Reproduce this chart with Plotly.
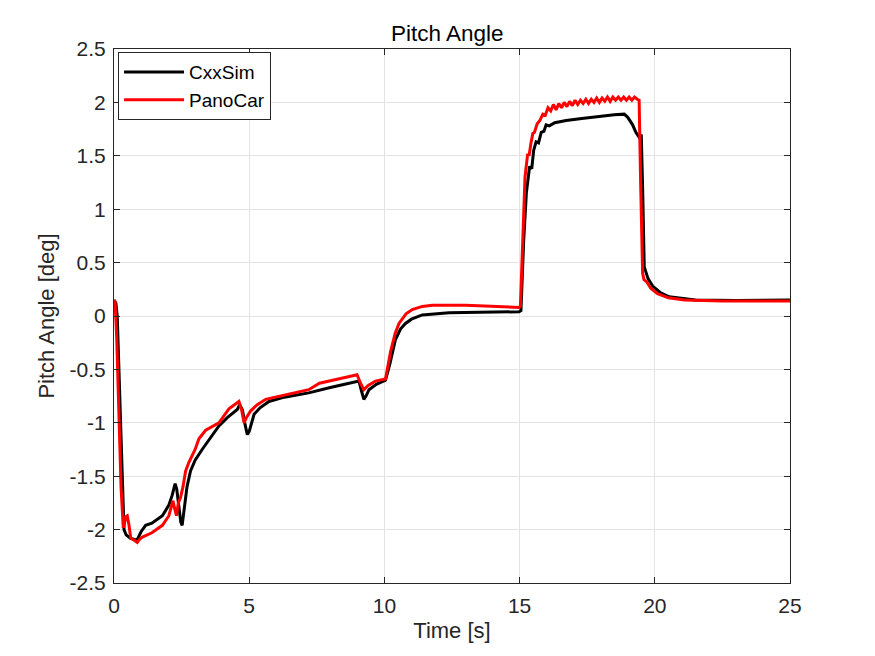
import plotly.graph_objects as go

# CxxSim (black) samples
t_cxx = [0, 0.07, 0.12, 0.2, 0.28, 0.37, 0.45, 0.6, 0.85, 1.0, 1.17, 1.4, 1.79, 2.03,
         2.15, 2.26, 2.32, 2.4, 2.47, 2.52, 2.6, 2.7, 2.83, 3.0, 3.26, 3.5, 3.88, 4.2,
         4.56, 4.65, 4.75, 4.85, 4.93, 5.0, 5.18, 5.4, 5.73, 6.3, 7.2, 8.0, 9.06, 9.15,
         9.24, 9.32, 9.43, 9.7, 10.04, 10.2, 10.41, 10.6, 10.78, 11.0, 11.4, 12.39,
         13.5, 14.98, 15.05, 15.15, 15.25, 15.37, 15.45, 15.52, 15.61, 15.7, 15.8,
         15.9, 15.98, 16.1, 16.3, 16.72, 17.3, 17.95, 18.5, 18.87, 19.0, 19.18, 19.3,
         19.43, 19.5, 19.55, 19.61, 19.75, 19.92, 20.2, 20.53, 21.5, 23.0, 25.0]
y_cxx = [0.15, 0.12, 0.0, -0.7, -1.4, -2.0, -2.05, -2.08, -2.1, -2.02, -1.96, -1.94,
         -1.87, -1.77, -1.68, -1.57, -1.62, -1.78, -1.93, -1.96, -1.8, -1.6, -1.45,
         -1.35, -1.25, -1.16, -1.03, -0.95, -0.875, -0.83, -0.88, -1.02, -1.11, -1.08,
         -0.92, -0.86, -0.8, -0.76, -0.72, -0.67, -0.61, -0.7, -0.78, -0.75, -0.69,
         -0.64, -0.6, -0.45, -0.22, -0.12, -0.07, -0.03, 0.01, 0.03, 0.035, 0.04, 0.05,
         0.7, 1.15, 1.4, 1.38, 1.55, 1.63, 1.62, 1.72, 1.73, 1.79, 1.78, 1.81, 1.83,
         1.85, 1.87, 1.885, 1.89, 1.86, 1.79, 1.72, 1.67, 1.7, 1.2, 0.46, 0.35, 0.28,
         0.22, 0.18, 0.15, 0.145, 0.15]

# PanoCar (red) samples
t_pano = [0, 0.04, 0.1, 0.18, 0.26, 0.34, 0.37, 0.43, 0.49, 0.55, 0.62, 0.75, 0.86,
          0.95, 1.05, 1.4, 1.79, 2.03, 2.12, 2.18, 2.24, 2.31, 2.38, 2.46, 2.55, 2.65,
          2.77, 3.0, 3.14, 3.39, 3.88, 4.25, 4.62, 4.72, 4.81, 4.9, 5.05, 5.3, 5.61,
          6.3, 7.2, 7.6, 8.3, 8.99, 9.1, 9.24, 9.4, 9.67, 10.04, 10.1, 10.23, 10.4,
          10.54, 10.8, 11.03, 11.4, 11.77, 13.0, 14.98, 15.03, 15.12, 15.2, 15.3, 15.35,
          15.42, 15.49, 15.55, 15.65, 15.75, 15.86, 15.95, 16.05, 16.15, 16.25, 16.35,
          16.45, 16.55, 16.65, 16.75, 16.85, 16.95, 17.05, 17.15, 17.25, 17.35, 17.45,
          17.55, 17.65, 17.75, 17.85, 17.95, 18.05, 18.15, 18.25, 18.35, 18.45, 18.55,
          18.65, 18.75, 18.85, 18.95, 19.05, 19.15, 19.25, 19.35, 19.42, 19.48, 19.55,
          19.6, 19.7, 19.85, 20.1, 20.5, 21.1, 22.5, 25.0]
y_pano = [0.15, 0.13, -0.2, -0.9, -1.6, -1.97, -1.97, -1.88, -1.87, -1.95, -2.08,
          -2.1, -2.12, -2.09, -2.07, -2.03, -1.96, -1.87, -1.79, -1.73, -1.8, -1.87,
          -1.75, -1.7, -1.6, -1.45, -1.37, -1.25, -1.15, -1.07, -1.0, -0.87, -0.8,
          -0.88, -1.0, -0.95, -0.89, -0.83, -0.78, -0.74, -0.69, -0.63, -0.59, -0.55,
          -0.62, -0.69, -0.65, -0.61, -0.59, -0.5, -0.33, -0.16, -0.07, 0.02, 0.06,
          0.09, 0.1, 0.1, 0.08, 0.09, 0.8, 1.3, 1.52, 1.5, 1.62, 1.71, 1.72, 1.8, 1.83,
          1.89, 1.88, 1.95, 1.92, 1.98, 1.93, 1.99, 1.95, 2.0, 1.96, 2.01, 1.97, 2.02,
          1.98, 2.02, 1.99, 2.03, 1.99, 2.03, 2.0, 2.04, 2.0, 2.04, 2.01, 2.05, 2.01,
          2.05, 2.02, 2.05, 2.02, 2.05, 2.02, 2.05, 2.02, 2.05, 2.03, 2.02, 1.2, 0.4,
          0.34, 0.32, 0.26, 0.21, 0.17, 0.15, 0.14, 0.14]

x_ticks = [0, 5, 10, 15, 20, 25]
y_ticks = [-2.5, -2, -1.5, -1, -0.5, 0, 0.5, 1, 1.5, 2, 2.5]
y_labels = ["-2.5", "-2", "-1.5", "-1", "-0.5", "0", "0.5", "1", "1.5", "2", "2.5"]

fig = go.Figure()
fig.add_trace(go.Scatter(x=t_cxx, y=y_cxx, name="CxxSim", mode="lines",
                         line=dict(color="black", width=3)))
fig.add_trace(go.Scatter(x=t_pano, y=y_pano, name="PanoCar", mode="lines",
                         line=dict(color="#ff0000", width=3)))

axis_common = dict(showline=True, linecolor="#262626", linewidth=1, mirror="ticks",
                   ticks="inside", ticklen=6, tickcolor="#262626",
                   showgrid=True, gridcolor="#e3e3e3", gridwidth=1, zeroline=False,
                   tickfont=dict(size=21, color="#262626"))

fig.update_layout(
    width=875, height=656,
    margin=dict(l=106, r=93, t=41, b=81),
    paper_bgcolor="white", plot_bgcolor="white",
    font=dict(family="Liberation Sans, Arial, sans-serif", color="#262626"),
    title=dict(text="Pitch Angle", x=0.502, xanchor="center", y=0.962, yanchor="middle",
               font=dict(size=22.5, color="black")),
    xaxis=dict(range=[0, 25], tickvals=x_ticks, ticktext=[str(v) for v in x_ticks],
               ticklabelstandoff=4,
               title=dict(text="Time [s]", font=dict(size=22), standoff=6),
               **axis_common),
    yaxis=dict(range=[-2.5, 2.5], tickvals=y_ticks, ticktext=y_labels,
               ticklabelstandoff=3,
               title=dict(text="Pitch Angle [deg]", font=dict(size=22), standoff=8),
               **axis_common),
    legend=dict(x=0.006, y=0.994, xanchor="left", yanchor="top",
                bgcolor="white", bordercolor="#262626", borderwidth=1,
                itemwidth=60,
                font=dict(size=19, color="black"), tracegroupgap=0),
    showlegend=True,
)

fig.write_html("out.html")
